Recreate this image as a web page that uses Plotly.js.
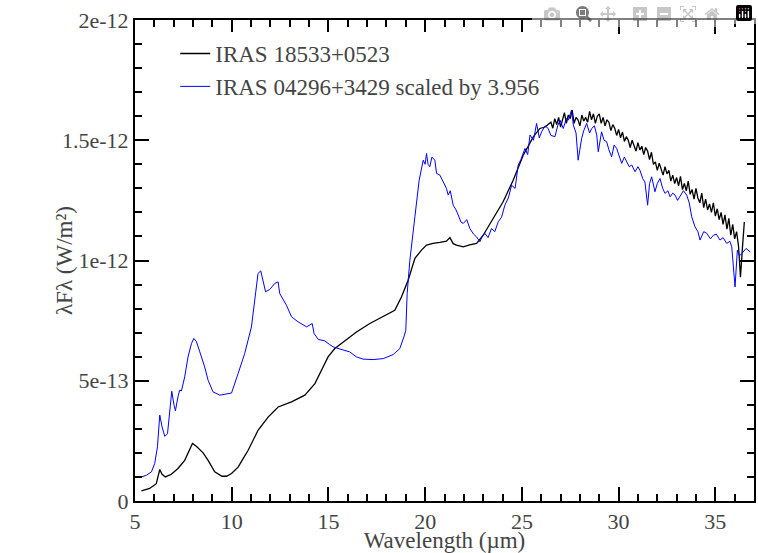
<!DOCTYPE html>
<html>
<head>
<meta charset="utf-8">
<script src="https://cdn.plot.ly/plotly-3.0.1.min.js"></script>
<style>html,body{margin:0;padding:0;background:#fff;}#chart{width:758px;height:553px;}</style>
</head>
<body>
<div id="chart"></div>
<script>
// Wavelength (µm) and flux (units of 1e-13 W/m^2)
const blackName = "IRAS 18533+0523";
const blueName = "IRAS 04296+3429 scaled by 3.956";

const blackWave = [5.33,5.76,6.1,6.22,6.28,6.4,6.57,6.88,7.22,7.57,7.83,7.97,8.17,8.52,8.78,9.12,9.5,9.73,9.99,10.33,10.59,10.85,11.36,11.88,12.4,13.09,13.78,14.3,14.64,14.98,15.33,15.76,16.45,17.14,17.83,18.43,18.78,19.12,19.47,19.81,20.07,20.41,20.76,21.1,21.28,21.45,21.62,21.97,22.3,22.66,23.0,23.52,24.03,24.55,25.07,25.59,25.93,26.2,
26.5,26.6,26.7,26.8,26.9,27.0,27.1,27.2,27.3,27.4,27.5,27.6,27.7,27.8,27.9,28.0,28.1,28.2,28.3,28.4,28.5,28.6,28.7,28.8,28.9,29.0,29.1,29.2,29.3,29.4,29.5,29.6,29.7,29.8,29.9,30.0,30.1,30.2,30.3,30.4,30.5,30.6,30.7,30.8,30.9,31.0,31.1,31.2,31.3,31.4,31.5,31.6,31.7,31.8,31.9,32.0,32.1,32.2,32.3,32.4,32.5,32.6,32.7,32.8,32.9,33.0,33.1,33.2,33.3,33.4,33.5,33.6,33.7,33.8,33.9,34.0,34.1,34.2,34.3,34.4,34.5,34.6,34.7,34.8,34.9,35.0,35.1,35.2,35.3,35.4,35.5,35.6,35.7,35.8,35.9,36.0,36.1,36.2,36.3,36.4,36.5];
const blackFlux = [0.42,0.52,0.72,1.05,1.31,1.11,1.0,1.11,1.35,1.69,2.18,2.39,2.28,2.0,1.69,1.21,1.03,1.03,1.14,1.41,1.76,2.11,2.94,3.49,3.91,4.12,4.4,4.88,5.44,5.99,6.34,6.6,7.03,7.38,7.66,7.93,8.49,9.18,10.09,10.43,10.64,10.71,10.75,10.8,10.95,10.7,10.64,10.57,10.65,10.71,11.05,11.75,12.44,13.34,14.38,15.14,15.49,15.55,
15.75,15.5,15.9,15.65,15.95,15.55,15.9,16.15,15.7,16.05,15.9,16.25,15.7,15.95,15.85,15.6,16.05,15.8,15.95,15.75,16.2,15.85,16.1,15.7,16.0,16.1,15.7,15.95,15.6,15.85,15.75,15.4,15.65,15.5,15.2,15.45,15.1,15.35,14.95,15.15,15.0,14.7,15.0,14.8,14.55,14.9,14.6,14.75,14.4,14.7,14.55,14.2,14.5,14.0,14.1,13.75,14.05,13.8,13.55,13.9,13.6,13.75,13.3,13.55,13.2,13.45,13.1,13.5,12.95,13.2,12.9,13.3,12.75,12.95,12.55,13.0,12.6,12.4,12.8,12.2,12.55,12.1,12.35,12.0,12.4,11.85,12.15,11.7,12.0,11.5,11.9,11.3,11.75,11.05,11.5,10.9,11.2,10.6,9.3,10.5,11.6];

const blueWave = [5.33,5.59,5.85,6.02,6.16,6.28,6.4,6.54,6.68,6.8,6.9,7.02,7.09,7.22,7.31,7.4,7.57,7.74,7.92,8.04,8.18,8.35,8.6,8.78,9.03,9.38,9.73,9.99,10.33,10.67,11.02,11.19,11.36,11.5,11.62,11.75,11.97,12.23,12.4,12.48,12.83,13.09,13.43,13.87,14.16,14.26,14.47,14.81,15.07,15.24,15.59,16.1,16.45,16.79,17.31,17.83,18.35,18.69,18.9,19.0,19.07,19.21,19.47,19.69,19.9,20.0,20.07,20.15,20.24,20.35,20.5,20.59,20.76,20.93,21.1,21.19,21.3,21.45,21.6,21.71,21.85,21.97,22.15,22.31,22.5,22.66,22.83,22.95,23.09,23.25,23.43,23.6,23.78,23.95,24.12,24.3,24.47,24.65,24.81,24.95,25.16,25.3,25.42,25.6,25.76,25.9,26.02,26.2,26.36,26.5,26.71,26.85,26.97,27.14,27.3,27.4,27.57,27.66,27.8,27.91,28.09,28.2,28.35,28.5,28.61,28.75,28.87,28.95,29.12,29.25,29.38,29.5,29.64,29.77,29.9,30.05,30.16,30.3,30.42,30.55,30.68,30.85,31.0,31.1,31.25,31.36,31.5,31.6,31.71,31.88,32.0,32.14,32.28,32.4,32.55,32.66,32.8,32.92,33.05,33.17,33.35,33.52,33.65,33.78,33.95,34.1,34.21,34.4,34.56,34.75,34.9,35.05,35.24,35.4,35.59,35.75,35.85,36.02,36.14,36.25,36.37,36.59,36.8];
const blueFlux = [1.0,1.07,1.21,1.56,2.25,3.57,3.08,2.69,2.80,3.64,4.56,3.98,3.75,4.33,4.61,4.58,5.16,5.99,6.55,6.76,6.62,6.2,5.58,5.02,4.54,4.4,4.44,4.49,5.30,6.13,7.24,8.35,9.46,9.57,9.18,8.70,8.80,9.05,9.11,8.63,8.14,7.66,7.45,7.24,7.38,6.96,6.72,6.66,6.5,6.41,6.32,6.20,5.99,5.90,5.88,5.92,6.09,6.34,6.82,7.1,8.63,10.01,11.82,13.34,14.17,14.0,14.45,14.0,13.9,14.3,14.17,13.62,13.55,13.27,13.0,12.72,12.9,12.30,12.1,11.89,11.6,11.54,11.7,11.33,11.1,10.98,10.78,11.0,11.13,10.95,11.33,11.2,11.61,11.8,12.30,12.6,13.13,13.0,13.97,14.2,14.66,14.4,15.22,15.0,15.70,15.1,15.35,15.6,15.49,15.2,15.15,15.6,15.84,15.49,15.9,15.84,16.26,15.63,15.3,14.17,15.08,15.4,15.70,15.3,15.49,15.6,15.22,14.52,15.35,15.0,14.94,14.6,14.31,14.8,14.66,14.3,14.04,14.3,14.1,13.9,13.97,13.69,13.9,13.76,13.4,13.27,12.30,13.2,13.48,12.86,13.2,13.41,13.0,12.79,12.9,12.65,12.8,12.72,12.5,12.65,12.9,12.72,12.4,11.82,11.40,11.2,10.85,11.2,11.13,10.9,11.05,11.1,10.85,10.95,10.71,10.8,10.57,8.90,10.43,10.2,10.29,10.50,10.36];

const yTickVals = [0, 5e-13, 1e-12, 1.5e-12, 2e-12];
const yTickText = ["0", "5e-13", "1e-12", "1.5e-12", "2e-12"];
const yMinorVals = [1e-13,2e-13,3e-13,4e-13,6e-13,7e-13,8e-13,9e-13,1.1e-12,1.2e-12,1.3e-12,1.4e-12,1.6e-12,1.7e-12,1.8e-12,1.9e-12];

const toW = a => a.map(v => v * 1e-13);

const traces = [
  {x: blackWave, y: toW(blackFlux), type: "scatter", mode: "lines", name: blackName,
   line: {color: "black", width: 1.3}},
  {x: blueWave, y: toW(blueFlux), type: "scatter", mode: "lines", name: blueName,
   line: {color: "blue", width: 1}}
];

const layout = {
  width: 758, height: 553,
  margin: {l: 135, r: 4, t: 20, b: 52},
  legend: {x: 0.065, y: 0.975, font: {family: "Times", size: 23}},
  xaxis: {
    range: [5, 37], tick0: 5, dtick: 5,
    showgrid: false, zeroline: false, showline: true, linecolor: "black", linewidth: 2,
    mirror: "allticks", ticks: "inside", tickcolor: "black", tickwidth: 2, ticklen: 14,
    tickfont: {family: "serif", size: 22},
    minor: {dtick: 1, ticks: "inside", ticklen: 7, tickwidth: 2, tickcolor: "black"},
    title: {text: "Wavelength (µm)", font: {family: "Times", size: 23}}
  },
  yaxis: {
    range: [0, 2e-12], tickmode: "array", tickvals: yTickVals, ticktext: yTickText,
    showgrid: false, zeroline: false, showline: true, linecolor: "black", linewidth: 2,
    mirror: "allticks", ticks: "inside", tickcolor: "black", tickwidth: 2, ticklen: 14,
    tickfont: {family: "serif", size: 22},
    minor: {tickmode: "array", tickvals: yMinorVals, ticks: "inside", ticklen: 7, tickwidth: 2, tickcolor: "black"},
    title: {text: "λFλ (W/m²)", font: {family: "Times", size: 23}}
  }
};

Plotly.newPlot("chart", traces, layout);
</script>
</body>
</html>
